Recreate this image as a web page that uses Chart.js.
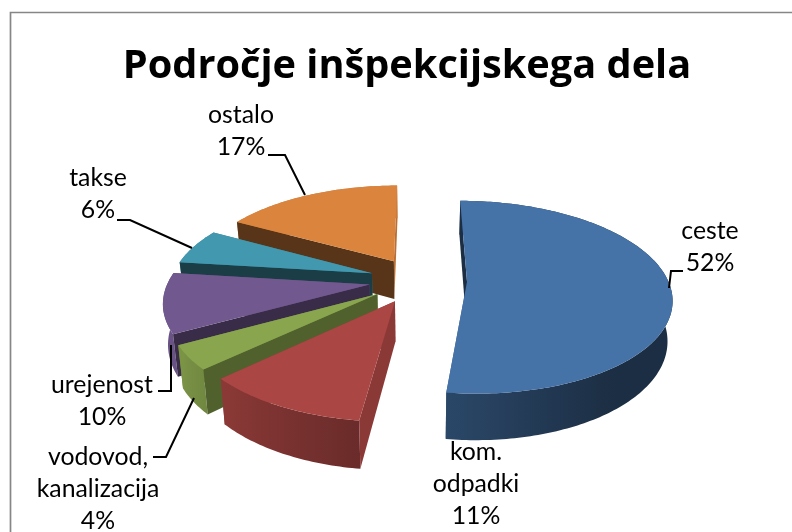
<!DOCTYPE html>
<html>
<head>
<meta charset="utf-8">
<style>
  html, body { margin: 0; padding: 0; background: #fff; }
  #wrap { position: absolute; left: 0; top: 0; width: 792px; height: 532px; }
</style>
<script src="https://cdn.jsdelivr.net/npm/chart.js@4"></script>
</head>
<body>
<div id="wrap"><canvas id="chart" width="792" height="532"></canvas></div>
<script>
const chartTitle = "Področje inšpekcijskega dela";
const categories = ["ceste", "kom. odpadki", "vodovod, kanalizacija", "urejenost", "takse", "ostalo"];
const shares = [52, 11, 4, 10, 6, 17];
const faceColors = ["#4572a7", "#aa4643", "#89a54e", "#71588f", "#4198af", "#db843d"];

// label block centre, first line middle, leader polyline - same order as categories
const labelSpots = [
  { x: 710, y: 231, leader: [[669, 288], [671, 271], [683, 271]] },
  { x: 476, y: 452, leader: [] },
  { x: 98, y: 457, leader: [[194, 398], [166, 457], [153, 457]] },
  { x: 102, y: 385, leader: [[171, 345], [171, 391], [158, 391]] },
  { x: 98, y: 178, leader: [[192, 248], [130, 220], [117, 220]] },
  { x: 241, y: 115, leader: [[305, 195], [285, 155], [268, 155]] },
];

const view = { shiftX: 11, perspective: 0.16, tilt: 0.465, depth: 39, taper: 0.02 };

function hexShade(hex, f) {
  const n = parseInt(hex.slice(1), 16);
  const r = Math.round(((n >> 16) & 255) * f);
  const g = Math.round(((n >> 8) & 255) * f);
  const b = Math.round((n & 255) * f);
  return `rgb(${r},${g},${b})`;
}

// clock angle in degrees, 0 = 12 o'clock, clockwise
const clock = (a) => ((a + Math.PI / 2) * 180) / Math.PI;

function outerShade(deg) {
  return Math.min(0.93, Math.max(0.4, 0.62 + (deg - 187) * 0.005));
}
function wallShade(deg) {
  if (deg < 187) return 0.4;
  return Math.min(0.82, Math.max(0.4, 0.82 - (deg - 187) * 0.0058));
}

const pie3d = {
  id: "pie3d",
  beforeDatasetsDraw(chart) {
    const ctx = chart.ctx;
    const arcs = chart.getDatasetMeta(0).data;
    const colors = chart.data.datasets[0].backgroundColor;

    const slices = arcs.map((arc, i) => {
      const r = arc.outerRadius;
      const off = arc.options.offset / r;
      const mid = (arc.startAngle + arc.endAngle) / 2;
      return {
        i, r, cx: arc.x + view.shiftX, cy: arc.y,
        start: arc.startAngle, end: arc.endAngle,
        ox: Math.cos(mid) * off,
        oy: -Math.sin(mid) * off,
      };
    });

    // plane coords (radius = 1, Y away from viewer) to screen
    const project = (s, X, Y, Z) => {
      const p = 1 / (1 + view.perspective * Y);
      const t = 1 - view.taper * Z;
      return [
        s.cx + X * s.r * p * t,
        s.cy - Y * s.r * view.tilt * p + Z * view.depth * p,
      ];
    };
    const rim = (s, a, Z) => project(s, s.ox + Math.cos(a), s.oy - Math.sin(a), Z);
    const apex = (s, Z) => project(s, s.ox, s.oy, Z);

    const poly = (pts, fill) => {
      ctx.beginPath();
      pts.forEach((p, k) => (k ? ctx.lineTo(p[0], p[1]) : ctx.moveTo(p[0], p[1])));
      ctx.closePath();
      ctx.fillStyle = fill;
      ctx.fill();
    };

    // horizontal gradient over the part of the rim that faces the viewer
    const rimGradient = (s, col) => {
      const deg = Math.PI / 180;
      const a0 = Math.max(s.start, 0);
      const a1 = Math.max(Math.min(s.end, Math.PI * 1.25), a0 + deg);
      const samples = [];
      for (let a = a0; a <= a1; a += 5 * deg) samples.push([rim(s, a, 1)[0], outerShade(clock(a))]);
      samples.push([rim(s, a1, 1)[0], outerShade(clock(a1))]);
      const xs = samples.map((p) => p[0]);
      const x0 = Math.min(...xs);
      const x1 = Math.max(...xs);
      const g = ctx.createLinearGradient(x0, 0, x1, 0);
      samples.forEach((p) => g.addColorStop((p[0] - x0) / (x1 - x0 || 1), hexShade(col, p[1])));
      return g;
    };

    // back to front
    slices.sort((a, b) => b.oy - a.oy);
    slices.forEach((s) => {
      const col = colors[s.i];
      const steps = Math.ceil(((s.end - s.start) * 180) / Math.PI);
      const da = (s.end - s.start) / steps;
      const upper = [];
      const lower = [];
      for (let k = 0; k <= steps; k++) {
        upper.push(rim(s, s.start + k * da, 0));
        lower.push(rim(s, s.start + k * da, 1));
      }

      poly([apex(s, 0), rim(s, s.end, 0), rim(s, s.end, 1), apex(s, 1)], hexShade(col, 0.85));
      poly(upper.concat(lower.slice().reverse()), rimGradient(s, col));
      poly([apex(s, 0), rim(s, s.start, 0), rim(s, s.start, 1), apex(s, 1)], hexShade(col, wallShade(clock(s.start))));
      poly([apex(s, 0)].concat(upper), col);
    });
    return false;
  },
  // afterDatasetsDraw does not fire when the hook above cancels the default drawing
  afterDraw(chart) {
    const ctx = chart.ctx;
    ctx.save();
    ctx.strokeStyle = "#000";
    ctx.lineWidth = 2;
    labelSpots.forEach((spot) => {
      if (!spot.leader.length) return;
      ctx.beginPath();
      spot.leader.forEach((p, k) => (k ? ctx.lineTo(p[0], p[1]) : ctx.moveTo(p[0], p[1])));
      ctx.stroke();
    });
    ctx.fillStyle = "#000";
    ctx.font = "24.8px Lato";
    ctx.textAlign = "center";
    ctx.textBaseline = "middle";
    categories.forEach((name, i) => {
      const lines = name.split(" ").concat(shares[i] + "%");
      lines.forEach((line, k) => ctx.fillText(line, labelSpots[i].x, labelSpots[i].y + k * 32));
    });
    // frame: the crop only keeps the left and top edges
    ctx.strokeStyle = "#868686";
    ctx.lineWidth = 1.7;
    ctx.beginPath();
    ctx.moveTo(10.5, 532);
    ctx.lineTo(10.5, 12.5);
    ctx.lineTo(792, 12.5);
    ctx.stroke();
    ctx.restore();
  },
};

new Chart(document.getElementById("chart"), {
  type: "pie",
  data: {
    labels: categories,
    datasets: [{
      data: shares,
      backgroundColor: faceColors,
      radius: 201,
      offset: 49,
      borderWidth: 0,
    }],
  },
  options: {
    responsive: false,
    animation: false,
    layout: { padding: { left: 22, right: 0, top: 43, bottom: 62 } },
    plugins: {
      legend: { display: false },
      tooltip: { enabled: false },
      title: {
        display: true,
        text: chartTitle,
        color: "#000",
        font: { family: "Open Sans", size: 39.7, weight: "bold" },
        padding: { top: 0, bottom: 0 },
      },
    },
  },
  plugins: [pie3d],
});
</script>
</body>
</html>
